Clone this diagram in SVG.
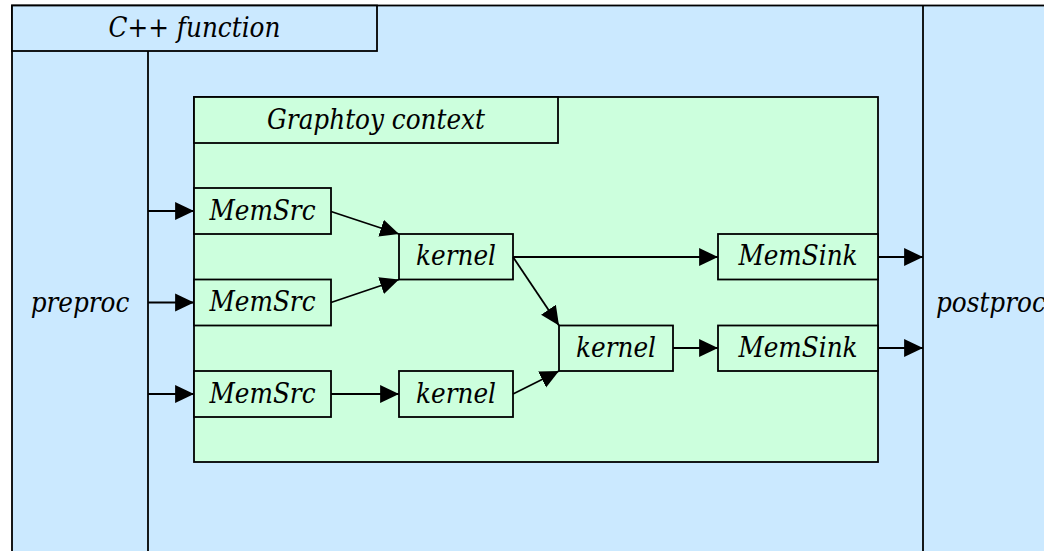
<svg xmlns="http://www.w3.org/2000/svg" width="1044" height="551" viewBox="0 0 1044 551">
<style>
.t{font-family:"DejaVu Serif Condensed","DejaVu Serif",serif;font-stretch:condensed;font-style:italic;font-size:27.5px;fill:#000;text-anchor:middle}
.b{fill:#cbe9ff;stroke:#000;stroke-width:1.8}
.g{fill:#ccffdd;stroke:#000;stroke-width:1.8}
.l{stroke:#000;stroke-width:1.8;fill:none}
.c{stroke:#000;stroke-width:1.8;fill:none;marker-end:url(#ah)}
</style>
<defs>
<marker id="ah" markerUnits="userSpaceOnUse" markerWidth="20" markerHeight="20" viewBox="0 -9 18 18" refX="17" refY="0" orient="auto">
<path d="M0,-8 L17,0 L0,8 z" fill="#000"/>
</marker>
</defs>
<rect width="1044" height="551" fill="#fff"/>
<g id="cpp-function">
<rect class="b" x="12" y="5.5" width="1050" height="560"/>
<rect class="b" x="12" y="5.5" width="365" height="45.5"/>
<text class="t" x="194.5" y="36.5">C++ function</text>
<line class="l" x1="148" y1="51" x2="148" y2="560"/>
<line class="l" x1="923" y1="5.5" x2="923" y2="560"/>
</g>
<g id="preproc"><text class="t" x="80" y="311.5">preproc</text></g>
<g id="postproc"><text class="t" x="936" y="311.5" style="text-anchor:start">postproc</text></g>
<g id="graphtoy-context">
<rect class="g" x="194" y="97" width="684" height="365"/>
<rect class="g" x="194" y="97" width="364" height="46"/>
<text class="t" x="376" y="128.5">Graphtoy context</text>
</g>
<g id="memsrc1"><rect class="g" x="194" y="188" width="137" height="46"/><text class="t" x="262.5" y="219.5">MemSrc</text></g>
<g id="memsrc2"><rect class="g" x="194" y="279.5" width="137" height="46"/><text class="t" x="262.5" y="311">MemSrc</text></g>
<g id="memsrc3"><rect class="g" x="194" y="371" width="137" height="46"/><text class="t" x="262.5" y="402.5">MemSrc</text></g>
<g id="kernel1"><rect class="g" x="399" y="234" width="114" height="45.5"/><text class="t" x="456" y="265">kernel</text></g>
<g id="kernel2"><rect class="g" x="399" y="371" width="114" height="46"/><text class="t" x="456" y="402.5">kernel</text></g>
<g id="kernel3"><rect class="g" x="559" y="325.5" width="114" height="45.5"/><text class="t" x="616" y="356.5">kernel</text></g>
<g id="memsink1"><rect class="g" x="718" y="234" width="160" height="45.5"/><text class="t" x="798" y="265">MemSink</text></g>
<g id="memsink2"><rect class="g" x="718" y="325.5" width="160" height="45.5"/><text class="t" x="798" y="356.5">MemSink</text></g>
<g id="connectors">
<line class="c" x1="148" y1="211" x2="194" y2="211"/>
<line class="c" x1="148" y1="302.5" x2="194" y2="302.5"/>
<line class="c" x1="148" y1="394" x2="194" y2="394"/>
<line class="c" x1="331" y1="211.5" x2="399" y2="234"/>
<line class="c" x1="331" y1="302.5" x2="399" y2="279.5"/>
<line class="c" x1="331" y1="394" x2="399" y2="394"/>
<line class="c" x1="513" y1="257" x2="718" y2="257"/>
<line class="c" x1="513" y1="257" x2="559" y2="325.5"/>
<line class="c" x1="513" y1="394" x2="559" y2="371"/>
<line class="c" x1="673" y1="348" x2="718" y2="348"/>
<line class="c" x1="878" y1="257" x2="923" y2="257"/>
<line class="c" x1="878" y1="348" x2="923" y2="348"/>
</g>
</svg>
